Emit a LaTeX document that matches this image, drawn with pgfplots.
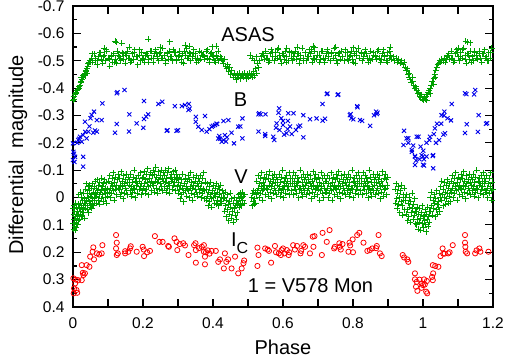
\documentclass[border=0pt]{standalone}
\usepackage{fontspec}
\setmainfont{Liberation Sans}
\usepackage{pgfplots}
\pgfplotsset{compat=1.18}
\definecolor{gpgreen}{RGB}{0,160,0}
\definecolor{gpblue}{RGB}{0,0,235}
\definecolor{gpred}{RGB}{255,0,0}

\begin{document}
\begin{tikzpicture}
\begin{axis}[
  scale only axis, width=420pt, height=301pt,
  xmin=0, xmax=1.2, ymin=-0.7, ymax=0.4, y dir=reverse,
  clip=false,
  xtick={0,0.1,0.2,0.3,0.4,0.5,0.6,0.7,0.8,0.9,1.0,1.1,1.2},
  xticklabels={0,,0.2,,0.4,,0.6,,0.8,,1,,1.2},
  ytick={-0.7,-0.6,-0.5,-0.4,-0.3,-0.2,-0.1,0,0.1,0.2,0.3,0.4},
  yticklabels={-0.7,-0.6,-0.5,-0.4,-0.3,-0.2,-0.1,0,0.1,0.2,0.3,0.4},
  minor ytick={-0.65,-0.55,-0.45,-0.35,-0.25,-0.15,-0.05,0.05,0.15,0.25,0.35},
  tick align=inside,
  major tick length=8pt, minor tick length=4.5pt,
  tick style={black, line width=1.1pt},
  axis line style={black, line width=1.3pt},
  tick label style={font=\fontsize{15.5}{18}\selectfont},
  xticklabel style={yshift=-7pt},
  yticklabel style={xshift=-5pt},
  label style={font=\fontsize{20}{24}\selectfont},
  xlabel={Phase},
  xlabel style={at={(axis description cs:0.5,-0.159)}, anchor=base},
  ylabel={Differential\ \ magnitude},
  ylabel style={at={(axis description cs:-0.131,0.505)}, anchor=center},
  asas/.style={only marks, mark=+, mark size=3pt, gpgreen, mark options={line width=0.9pt}},
]

% ASAS light curve
\addplot[asas] coordinates {
(0.001,-0.355)(0.002,-0.37)(0.004,-0.36)(0.006,-0.375)(0.008,-0.38)(0.01,-0.385)(0.012,-0.39)(0.014,-0.395)(0.016,-0.4)(0.018,-0.405)
(0.02,-0.41)(0.022,-0.42)(0.024,-0.425)(0.026,-0.43)(0.028,-0.44)(0.03,-0.445)(0.032,-0.45)(0.034,-0.455)(0.036,-0.46)(0.038,-0.465)
(0.04,-0.47)(0.042,-0.48)(0.044,-0.49)(0.046,-0.495)(0.048,-0.5)(0.05,-0.495)(0.023,-0.44)(0.035,-0.445)(0.041,-0.455)
(0.053,-0.51)(0.057,-0.495)(0.061,-0.525)(0.065,-0.5)(0.069,-0.485)(0.073,-0.515)(0.077,-0.53)(0.081,-0.505)(0.085,-0.49)(0.089,-0.52)
(0.093,-0.5)(0.097,-0.535)(0.101,-0.51)(0.105,-0.48)(0.109,-0.515)(0.113,-0.495)(0.117,-0.525)(0.121,-0.505)(0.125,-0.49)(0.129,-0.52)
(0.133,-0.515)(0.137,-0.5)(0.141,-0.53)(0.145,-0.505)(0.149,-0.49)(0.153,-0.52)(0.157,-0.535)(0.161,-0.51)(0.165,-0.495)(0.169,-0.525)
(0.173,-0.505)(0.177,-0.54)(0.181,-0.515)(0.185,-0.485)(0.189,-0.52)(0.193,-0.5)(0.197,-0.53)(0.201,-0.51)(0.205,-0.495)(0.209,-0.525)
(0.213,-0.52)(0.217,-0.505)(0.221,-0.535)(0.225,-0.51)(0.229,-0.495)(0.233,-0.525)(0.237,-0.54)(0.241,-0.515)(0.245,-0.5)(0.249,-0.53)
(0.253,-0.51)(0.257,-0.545)(0.261,-0.52)(0.265,-0.49)(0.269,-0.525)(0.273,-0.505)(0.277,-0.535)(0.281,-0.515)(0.285,-0.5)(0.289,-0.53)
(0.293,-0.53)(0.297,-0.5)(0.301,-0.515)(0.305,-0.535)(0.309,-0.505)(0.313,-0.525)(0.317,-0.49)(0.321,-0.52)(0.325,-0.545)(0.329,-0.51)
(0.333,-0.53)(0.337,-0.5)(0.341,-0.515)(0.345,-0.54)(0.349,-0.525)(0.353,-0.495)(0.357,-0.51)(0.361,-0.535)(0.365,-0.505)(0.369,-0.52)
(0.373,-0.52)(0.377,-0.505)(0.381,-0.535)(0.385,-0.51)(0.389,-0.495)(0.393,-0.525)(0.397,-0.53)(0.401,-0.515)(0.405,-0.5)(0.409,-0.52)
(0.413,-0.51)(0.417,-0.5)(0.421,-0.515)(0.425,-0.505)
(0.055,-0.525)(0.063,-0.51)(0.071,-0.5)(0.079,-0.53)(0.087,-0.515)(0.095,-0.54)(0.103,-0.505)(0.111,-0.52)(0.119,-0.495)(0.127,-0.535)
(0.135,-0.51)(0.143,-0.525)(0.151,-0.525)(0.159,-0.51)(0.167,-0.5)(0.175,-0.53)(0.183,-0.515)(0.191,-0.54)(0.199,-0.505)(0.207,-0.52)
(0.215,-0.495)(0.223,-0.535)(0.231,-0.51)(0.239,-0.525)(0.247,-0.525)(0.255,-0.51)(0.263,-0.5)(0.271,-0.53)(0.279,-0.515)(0.287,-0.54)
(0.295,-0.505)(0.303,-0.52)(0.311,-0.495)(0.319,-0.535)(0.327,-0.51)(0.335,-0.525)(0.343,-0.525)(0.351,-0.51)(0.359,-0.5)(0.367,-0.53)
(0.375,-0.515)(0.383,-0.54)(0.391,-0.505)(0.399,-0.52)(0.407,-0.495)(0.415,-0.535)(0.423,-0.51)
(0.12,-0.572)(0.124,-0.568)(0.139,-0.563)(0.215,-0.578)(0.277,-0.57)(0.32,-0.557)(0.333,-0.553)(0.398,-0.551)(0.41,-0.554)(0.09,-0.545)(0.16,-0.55)(0.25,-0.55)
(0.427,-0.5)(0.43,-0.49)(0.433,-0.505)(0.436,-0.48)(0.439,-0.47)(0.442,-0.485)(0.445,-0.46)(0.448,-0.475)(0.451,-0.45)(0.454,-0.465)
(0.457,-0.44)(0.46,-0.455)(0.463,-0.445)(0.466,-0.43)(0.469,-0.45)(0.472,-0.44)(0.475,-0.455)(0.478,-0.435)(0.481,-0.445)(0.484,-0.45)
(0.487,-0.44)(0.49,-0.455)(0.493,-0.445)(0.496,-0.435)(0.499,-0.45)(0.502,-0.44)(0.505,-0.455)(0.508,-0.445)(0.51,-0.45)(0.513,-0.44)
(0.516,-0.46)(0.519,-0.445)(0.522,-0.47)(0.525,-0.455)(0.528,-0.49)(0.531,-0.475)(0.534,-0.5)(0.537,-0.515)(0.54,-0.525)
(0.506,-0.52)(0.512,-0.51)(0.518,-0.5)(0.524,-0.515)
(0.543,-0.52)(0.547,-0.505)(0.551,-0.535)(0.555,-0.51)(0.559,-0.495)(0.563,-0.525)(0.567,-0.54)(0.571,-0.515)(0.575,-0.5)(0.579,-0.53)
(0.583,-0.51)(0.587,-0.545)(0.591,-0.52)(0.595,-0.49)(0.599,-0.525)(0.603,-0.505)(0.607,-0.535)(0.611,-0.515)(0.615,-0.5)(0.619,-0.53)
(0.623,-0.53)(0.627,-0.5)(0.631,-0.515)(0.635,-0.535)(0.639,-0.505)(0.643,-0.525)(0.647,-0.49)(0.651,-0.52)(0.655,-0.545)(0.659,-0.51)
(0.663,-0.53)(0.667,-0.5)(0.671,-0.515)(0.675,-0.54)(0.679,-0.525)(0.683,-0.495)(0.687,-0.51)(0.691,-0.535)(0.695,-0.505)(0.699,-0.52)
(0.703,-0.52)(0.707,-0.505)(0.711,-0.535)(0.715,-0.51)(0.719,-0.495)(0.723,-0.525)(0.727,-0.54)(0.731,-0.515)(0.735,-0.5)(0.739,-0.53)
(0.743,-0.51)(0.747,-0.545)(0.751,-0.52)(0.755,-0.49)(0.759,-0.525)(0.763,-0.505)(0.767,-0.535)(0.771,-0.515)(0.775,-0.5)(0.779,-0.53)
(0.783,-0.53)(0.787,-0.5)(0.791,-0.515)(0.795,-0.535)(0.799,-0.505)(0.803,-0.525)(0.807,-0.49)(0.811,-0.52)(0.815,-0.545)(0.819,-0.51)
(0.823,-0.53)(0.827,-0.5)(0.831,-0.515)(0.835,-0.54)(0.839,-0.525)(0.843,-0.495)(0.847,-0.51)(0.851,-0.535)(0.855,-0.505)(0.859,-0.52)
(0.863,-0.52)(0.867,-0.505)(0.871,-0.535)(0.875,-0.51)(0.879,-0.495)(0.883,-0.525)(0.887,-0.54)(0.891,-0.515)(0.895,-0.5)(0.899,-0.53)(0.903,-0.51)
(0.545,-0.525)(0.553,-0.51)(0.561,-0.5)(0.569,-0.53)(0.577,-0.515)(0.585,-0.54)(0.593,-0.505)(0.601,-0.52)(0.609,-0.495)(0.617,-0.535)
(0.625,-0.51)(0.633,-0.525)(0.641,-0.525)(0.649,-0.51)(0.657,-0.5)(0.665,-0.53)(0.673,-0.515)(0.681,-0.54)(0.689,-0.505)(0.697,-0.52)
(0.705,-0.495)(0.713,-0.535)(0.721,-0.51)(0.729,-0.525)(0.737,-0.525)(0.745,-0.51)(0.753,-0.5)(0.761,-0.53)(0.769,-0.515)(0.777,-0.54)
(0.785,-0.505)(0.793,-0.52)(0.801,-0.495)(0.809,-0.535)(0.817,-0.51)(0.825,-0.525)(0.833,-0.525)(0.841,-0.51)(0.849,-0.5)(0.857,-0.53)
(0.865,-0.515)(0.873,-0.54)(0.881,-0.505)(0.889,-0.52)(0.897,-0.495)(0.905,-0.535)
(0.686,-0.553)(0.69,-0.548)(0.906,-0.55)(0.61,-0.545)(0.75,-0.55)(0.8,-0.548)(0.64,-0.55)
(0.907,-0.52)(0.911,-0.505)(0.915,-0.515)(0.919,-0.5)(0.923,-0.51)(0.927,-0.495)(0.931,-0.505)(0.935,-0.49)(0.939,-0.5)(0.943,-0.485)
(0.946,-0.495)(0.949,-0.475)(0.952,-0.465)(0.955,-0.47)(0.958,-0.45)(0.961,-0.44)(0.964,-0.43)(0.967,-0.42)(0.97,-0.425)(0.973,-0.41)
(0.976,-0.4)(0.979,-0.405)(0.982,-0.39)(0.985,-0.38)(0.988,-0.385)(0.991,-0.37)(0.994,-0.365)(0.997,-0.36)(1.0,-0.355)(1.003,-0.365)
(1.006,-0.36)(1.009,-0.37)(1.012,-0.375)(1.015,-0.385)(1.018,-0.39)(1.021,-0.4)(1.024,-0.41)(1.027,-0.425)(1.03,-0.435)(1.033,-0.45)
(1.036,-0.465)(1.039,-0.475)(1.042,-0.485)(1.045,-0.49)(1.048,-0.5)(1.051,-0.495)(1.054,-0.505)(1.057,-0.5)(1.06,-0.51)(1.063,-0.495)
(1.066,-0.505)(1.069,-0.515)
(0.96,-0.455)(0.97,-0.44)(0.98,-0.4)(0.995,-0.375)(1.01,-0.355)(1.02,-0.38)(1.03,-0.415)(1.035,-0.44)
(1.072,-0.52)(1.076,-0.505)(1.08,-0.535)(1.084,-0.51)(1.088,-0.495)(1.092,-0.525)(1.096,-0.54)(1.1,-0.515)(1.104,-0.5)(1.108,-0.53)
(1.112,-0.51)(1.116,-0.545)(1.12,-0.52)(1.124,-0.49)(1.128,-0.525)(1.132,-0.505)(1.136,-0.535)(1.14,-0.515)(1.144,-0.5)(1.148,-0.53)
(1.152,-0.52)(1.156,-0.505)(1.16,-0.535)(1.164,-0.51)(1.168,-0.495)(1.172,-0.525)(1.176,-0.54)(1.18,-0.515)(1.184,-0.5)(1.188,-0.53)
(1.192,-0.51)(1.196,-0.545)
(1.074,-0.525)(1.082,-0.51)(1.09,-0.5)(1.098,-0.53)(1.106,-0.515)(1.114,-0.54)(1.122,-0.505)(1.13,-0.52)(1.138,-0.495)(1.146,-0.535)
(1.154,-0.51)(1.162,-0.525)(1.17,-0.525)(1.178,-0.51)(1.186,-0.5)(1.194,-0.53)
(1.122,-0.572)(1.128,-0.568)(1.135,-0.566)(1.1,-0.545)
};

% B light curve
\addplot[only marks, mark=x, mark size=2.9pt, gpblue, mark options={line width=0.9pt}] coordinates {
(0.0,-0.137)(0.001,-0.167)(0.0,-0.198)(0.003,-0.16)(0.006,-0.149)(0.004,-0.13)(0.029,-0.149)(0.029,-0.113)
(0.015,-0.21)(0.025,-0.204)(0.039,-0.216)(0.02,-0.222)(0.029,-0.228)(0.034,-0.277)(0.044,-0.241)(0.058,-0.237)(0.068,-0.241)
(0.053,-0.302)(0.06,-0.314)(0.068,-0.283)(0.082,-0.283)(0.084,-0.344)(0.012,-0.2)(0.018,-0.215)(0.047,-0.26)(0.05,-0.29)(0.035,-0.24)(0.063,-0.245)
(0.125,-0.381)(0.127,-0.385)(0.147,-0.393)(0.12,-0.237)(0.125,-0.269)(0.16,-0.241)(0.161,-0.304)(0.182,-0.271)(0.201,-0.255)
(0.203,-0.287)(0.203,-0.353)(0.215,-0.304)(0.209,-0.296)
(0.244,-0.342)(0.255,-0.35)(0.268,-0.244)(0.27,-0.246)(0.291,-0.334)(0.296,-0.244)(0.3,-0.246)(0.311,-0.334)(0.32,-0.338)
(0.331,-0.342)(0.33,-0.32)(0.333,-0.325)
(0.351,-0.295)(0.351,-0.277)(0.358,-0.259)(0.368,-0.247)(0.377,-0.298)(0.382,-0.241)(0.39,-0.25)(0.396,-0.259)(0.4,-0.262)
(0.406,-0.265)(0.41,-0.27)(0.412,-0.269)(0.415,-0.216)(0.418,-0.225)(0.425,-0.204)(0.43,-0.21)(0.434,-0.228)(0.43,-0.28)
(0.444,-0.283)(0.44,-0.22)(0.453,-0.237)(0.46,-0.198)(0.472,-0.259)(0.478,-0.26)(0.484,-0.289)(0.484,-0.216)(0.42,-0.215)(0.437,-0.205)
(0.53,-0.304)(0.536,-0.304)(0.532,-0.308)(0.55,-0.304)(0.53,-0.241)(0.549,-0.232)(0.549,-0.225)(0.572,-0.222)(0.575,-0.21)
(0.589,-0.326)(0.587,-0.31)(0.582,-0.271)(0.6,-0.265)(0.59,-0.247)(0.61,-0.235)(0.62,-0.26)(0.614,-0.28)(0.6,-0.28)(0.58,-0.255)
(0.595,-0.29)(0.603,-0.23)(0.613,-0.25)(0.615,-0.308)(0.625,-0.232)(0.63,-0.308)(0.637,-0.247)(0.644,-0.259)(0.649,-0.263)
(0.658,-0.22)(0.658,-0.301)(0.677,-0.286)(0.696,-0.289)(0.713,-0.281)(0.72,-0.288)(0.713,-0.342)(0.725,-0.378)(0.727,-0.38)
(0.756,-0.375)(0.758,-0.377)
(0.791,-0.301)(0.793,-0.305)(0.795,-0.29)(0.801,-0.286)(0.812,-0.334)(0.813,-0.33)(0.82,-0.283)(0.826,-0.28)(0.849,-0.262)
(0.86,-0.301)(0.866,-0.314)(0.87,-0.31)(0.868,-0.305)
(0.944,-0.192)(0.946,-0.244)(0.953,-0.216)(0.958,-0.2)(0.958,-0.217)(0.968,-0.174)(0.968,-0.167)(0.972,-0.19)(0.977,-0.152)
(0.977,-0.149)(0.977,-0.119)(0.98,-0.135)(0.982,-0.222)(0.987,-0.222)(0.99,-0.14)(0.993,-0.186)(0.996,-0.155)(1.0,-0.15)
(1.0,-0.12)(1.001,-0.171)(1.003,-0.14)(1.003,-0.117)(1.01,-0.15)(1.01,-0.2)(1.018,-0.21)(1.02,-0.222)(1.028,-0.152)
(1.029,-0.107)(1.029,-0.155)(1.031,-0.232)(1.034,-0.253)(1.037,-0.2)(1.04,-0.27)(1.046,-0.21)(1.052,-0.27)(1.053,-0.301)
(1.058,-0.23)(1.06,-0.3)(1.061,-0.314)(1.063,-0.235)(1.07,-0.29)(1.08,-0.282)(1.082,-0.342)(1.12,-0.381)(1.124,-0.378)
(1.146,-0.377)(1.149,-0.393)(1.12,-0.236)(1.125,-0.268)(1.157,-0.24)(1.159,-0.301)(1.183,-0.272)(1.18,-0.27)
};

% V light curve
\addplot[asas] coordinates {
(0.0005,0.095)(0.001,0.04)(0.002,0.115)(0.0025,0.06)(0.003,0.08)(0.004,0.03)(0.005,0.105)(0.0055,0.05)(0.006,0.12)(0.007,0.07)
(0.008,0.02)(0.0085,0.09)(0.009,0.06)(0.010,0.11)(0.011,0.035)(0.012,0.075)(0.013,0.1)(0.014,0.05)(0.0145,0.085)(0.015,0.025)
(0.016,0.06)(0.017,-0.01)(0.018,0.04)(0.019,0.08)(0.020,0.02)(0.021,0.05)(0.022,-0.02)(0.023,0.07)(0.024,0.03)(0.025,0.0)
(0.026,0.045)(0.027,0.065)(0.028,0.01)(0.029,0.035)(0.030,-0.015)(0.031,0.055)(0.032,0.02)(0.033,0.075)(0.034,0.005)(0.035,0.04)
(0.036,-0.03)(0.037,0.02)(0.038,-0.05)(0.039,0.01)(0.040,0.045)(0.041,-0.015)(0.042,0.03)(0.043,-0.04)(0.044,0.0)(0.045,0.055)
(0.046,-0.025)(0.047,0.015)(0.048,-0.045)(0.049,0.035)(0.050,-0.005)(0.051,0.02)(0.052,-0.035)(0.053,0.04)(0.054,-0.01)(0.055,0.025)
(0.056,-0.05)(0.057,0.005)(0.058,0.03)(0.059,-0.02)(0.060,0.01)
(0.061,-0.04)(0.062,0.0)(0.063,-0.06)(0.064,-0.015)(0.066,0.02)(0.067,-0.035)(0.068,-0.005)(0.069,-0.065)(0.071,-0.025)(0.072,0.01)
(0.073,-0.045)(0.075,-0.01)(0.076,0.025)(0.077,-0.055)(0.078,-0.02)(0.080,-0.03)(0.081,0.005)(0.082,-0.07)(0.084,-0.04)(0.085,-0.01)
(0.086,0.015)(0.088,-0.05)(0.089,-0.025)(0.090,-0.065)(0.092,0.0)(0.093,-0.035)(0.094,-0.015)(0.096,0.02)(0.097,-0.055)(0.098,-0.03)(0.099,-0.005)
(0.1015,-0.06)(0.103,-0.02)(0.1045,-0.08)(0.106,-0.035)(0.1075,0.0)(0.109,-0.05)(0.1105,-0.015)(0.112,-0.07)(0.1135,-0.04)(0.115,-0.09)
(0.1165,-0.025)(0.118,0.01)(0.1195,-0.055)(0.121,-0.03)(0.1225,-0.075)(0.124,-0.045)(0.1255,-0.01)(0.127,-0.065)(0.1285,-0.035)(0.13,-0.085)
(0.1315,-0.03)(0.133,-0.07)(0.1345,-0.005)(0.136,-0.045)(0.1375,-0.095)(0.139,-0.02)(0.1405,-0.06)(0.142,-0.04)(0.1435,0.005)(0.145,-0.08)
(0.1465,-0.05)(0.148,-0.015)(0.1495,-0.065)(0.151,-0.035)(0.1525,-0.085)(0.154,-0.025)(0.1555,-0.055)(0.157,-0.01)(0.1585,-0.075)(0.16,-0.045)
(0.1615,-0.065)(0.163,-0.025)(0.1645,-0.085)(0.166,-0.04)(0.1675,-0.005)(0.169,-0.055)(0.1705,-0.02)(0.172,-0.075)(0.1735,-0.035)(0.175,-0.1)
(0.1765,-0.03)(0.178,0.0)(0.1795,-0.06)(0.181,-0.045)(0.1825,-0.07)(0.184,-0.015)(0.1855,-0.05)(0.187,-0.08)(0.1885,-0.03)(0.19,-0.06)
(0.1915,-0.04)(0.193,-0.09)(0.1945,-0.01)(0.196,-0.05)(0.1975,-0.07)(0.199,-0.025)
(0.2005,-0.075)(0.202,-0.035)(0.2035,-0.095)(0.205,-0.05)(0.2065,-0.015)(0.208,-0.065)(0.2095,-0.03)(0.211,-0.085)(0.2125,-0.055)(0.214,-0.105)
(0.2155,-0.04)(0.217,-0.01)(0.2185,-0.07)(0.22,-0.045)(0.2215,-0.09)(0.223,-0.06)(0.2245,-0.025)(0.226,-0.08)(0.2275,-0.05)(0.229,-0.1)
(0.2305,-0.045)(0.232,-0.085)(0.2335,-0.02)(0.235,-0.06)(0.2365,-0.11)(0.238,-0.035)(0.2395,-0.075)(0.241,-0.055)(0.2425,-0.015)(0.244,-0.095)
(0.2455,-0.065)(0.247,-0.03)(0.2485,-0.08)(0.25,-0.05)(0.2515,-0.1)(0.253,-0.04)(0.2545,-0.07)(0.256,-0.025)(0.2575,-0.09)(0.259,-0.06)
(0.2605,-0.08)(0.262,-0.04)(0.2635,-0.1)(0.265,-0.055)(0.2665,-0.02)(0.268,-0.07)(0.2695,-0.035)(0.271,-0.09)(0.2725,-0.05)(0.274,-0.105)
(0.2755,-0.045)(0.277,-0.015)(0.2785,-0.075)(0.28,-0.06)(0.2815,-0.085)(0.283,-0.03)(0.2845,-0.065)(0.286,-0.095)(0.2875,-0.045)(0.289,-0.075)
(0.2905,-0.055)(0.292,-0.1)(0.2935,-0.025)(0.295,-0.065)(0.2965,-0.085)(0.298,-0.04)(0.2995,-0.07)
(0.3005,-0.055)(0.302,-0.015)(0.3035,-0.075)(0.305,-0.03)(0.3065,0.005)(0.308,-0.045)(0.3095,-0.01)(0.311,-0.065)(0.3125,-0.035)(0.314,-0.085)
(0.3155,-0.02)(0.317,0.015)(0.3185,-0.05)(0.32,-0.025)(0.3215,-0.07)(0.323,-0.04)(0.3245,-0.005)(0.326,-0.06)(0.3275,-0.03)(0.329,-0.08)
(0.3305,-0.025)(0.332,-0.065)(0.3335,0.0)(0.335,-0.04)(0.3365,-0.09)(0.338,-0.015)(0.3395,-0.055)(0.341,-0.035)(0.3425,0.01)(0.344,-0.075)
(0.3455,-0.045)(0.347,-0.01)(0.3485,-0.06)(0.35,-0.03)(0.3515,-0.08)(0.353,-0.02)(0.3545,-0.05)(0.356,-0.005)(0.3575,-0.07)(0.359,-0.04)
(0.3605,-0.06)(0.362,-0.02)(0.3635,-0.08)(0.365,-0.035)(0.3665,0.0)(0.368,-0.05)(0.3695,-0.015)(0.371,-0.07)(0.3725,-0.03)(0.374,-0.09)
(0.3755,-0.025)(0.377,0.005)(0.3785,-0.055)
(0.3805,-0.03)(0.382,0.01)(0.3835,-0.05)(0.385,-0.005)(0.3865,0.03)(0.388,-0.02)(0.3895,0.015)(0.391,-0.04)(0.3925,-0.01)(0.394,-0.055)
(0.3955,0.005)(0.397,0.035)(0.3985,-0.025)(0.4,0.0)(0.4015,-0.045)(0.403,-0.015)(0.4045,0.02)(0.406,-0.035)(0.4075,-0.005)(0.409,-0.05)
(0.4105,0.025)(0.412,-0.02)(0.4135,0.01)(0.415,-0.04)(0.4165,0.03)(0.418,-0.01)(0.4195,-0.03)(0.421,0.015)(0.4225,-0.045)(0.424,0.0)
(0.4255,0.02)(0.427,-0.025)(0.4285,0.005)(0.43,-0.015)
(0.4315,0.0)(0.433,0.05)(0.4345,-0.02)(0.436,0.03)(0.4375,0.07)(0.439,0.01)(0.4405,0.045)(0.442,-0.01)(0.4435,0.025)(0.445,0.085)
(0.4465,0.015)(0.448,0.06)(0.4495,-0.015)(0.451,0.035)(0.4525,0.075)(0.454,0.005)(0.4555,0.05)(0.457,0.02)(0.4585,0.09)(0.46,0.04)
(0.4615,0.0)(0.463,0.065)(0.4645,0.03)(0.466,0.08)(0.4675,0.01)(0.469,0.055)(0.4705,0.025)
(0.472,0.02)(0.4735,-0.01)(0.475,0.035)(0.4765,0.005)(0.478,-0.015)(0.4795,0.025)(0.481,0.0)(0.4825,0.03)(0.484,-0.02)(0.4855,0.01)
(0.487,-0.005)(0.4885,0.02)(0.49,-0.01)
(0.5105,0.0)(0.512,0.03)(0.5135,-0.015)(0.515,0.015)(0.5165,-0.025)(0.518,0.025)(0.5195,0.005)(0.521,-0.02)(0.5225,0.02)(0.524,-0.01)
(0.5255,-0.06)(0.527,-0.02)(0.5285,-0.08)(0.53,-0.035)(0.5315,0.0)(0.533,-0.05)(0.5345,-0.015)(0.536,-0.07)(0.5375,-0.04)(0.539,-0.09)
(0.5405,-0.025)(0.542,0.01)(0.5435,-0.055)(0.545,-0.03)(0.5465,-0.075)(0.548,-0.045)(0.5495,-0.01)(0.551,-0.065)(0.5525,-0.035)(0.554,-0.085)
(0.5555,-0.03)(0.557,-0.07)(0.5585,-0.005)(0.56,-0.045)(0.5615,-0.095)(0.563,-0.02)(0.5645,-0.06)(0.566,-0.04)(0.5675,0.005)(0.569,-0.08)
(0.5705,-0.05)(0.572,-0.015)(0.5735,-0.065)(0.575,-0.035)(0.5765,-0.085)(0.578,-0.025)(0.5795,-0.055)(0.581,-0.01)(0.5825,-0.075)(0.584,-0.045)
(0.5855,-0.065)(0.587,-0.025)(0.5885,-0.085)(0.59,-0.04)(0.5915,-0.005)(0.593,-0.055)(0.5945,-0.02)(0.596,-0.075)(0.5975,-0.035)(0.599,-0.1)
(0.6005,-0.03)(0.602,0.0)(0.6035,-0.06)(0.605,-0.045)(0.6065,-0.07)(0.608,-0.015)(0.6095,-0.05)(0.611,-0.08)(0.6125,-0.03)(0.614,-0.06)
(0.6155,-0.04)(0.617,-0.09)(0.6185,-0.01)(0.62,-0.05)(0.6215,-0.07)(0.623,-0.025)
(0.6245,-0.025)(0.626,-0.07)(0.6275,-0.05)(0.629,-0.01)(0.6305,-0.09)(0.632,-0.04)(0.6335,-0.06)(0.635,-0.03)(0.6365,-0.08)(0.638,-0.05)
(0.6395,-0.015)(0.641,-0.07)(0.6425,-0.045)(0.644,-0.06)(0.6455,0.0)(0.647,-0.03)(0.6485,-0.1)(0.65,-0.035)(0.6515,-0.075)(0.653,-0.02)
(0.6545,-0.055)(0.656,-0.005)(0.6575,-0.04)(0.659,-0.085)(0.6605,-0.025)(0.662,-0.065)(0.6635,-0.045)(0.665,-0.075)(0.6665,-0.01)(0.668,-0.055)
(0.6695,-0.025)(0.671,-0.085)(0.6725,-0.035)(0.674,-0.065)(0.6755,-0.015)(0.677,-0.05)(0.6785,-0.08)(0.68,0.005)(0.6815,-0.04)(0.683,-0.06)
(0.6845,-0.02)(0.686,-0.095)(0.6875,-0.045)(0.689,-0.005)(0.6905,-0.07)(0.692,-0.03)(0.6935,-0.085)(0.695,-0.035)(0.6965,-0.065)(0.698,-0.01)
(0.6995,-0.045)(0.701,-0.075)(0.7025,-0.03)(0.704,-0.055)(0.7055,0.01)(0.707,-0.025)(0.7085,-0.09)(0.71,-0.04)(0.7115,-0.07)(0.713,-0.015)
(0.7145,-0.05)(0.716,0.0)(0.7175,-0.035)(0.719,-0.08)(0.7205,-0.02)(0.722,-0.06)
(0.7235,-0.06)(0.725,-0.02)(0.7265,-0.08)(0.728,-0.035)(0.7295,0.0)(0.731,-0.05)(0.7325,-0.015)(0.734,-0.07)(0.7355,-0.04)(0.737,-0.09)
(0.7385,-0.025)(0.74,0.01)(0.7415,-0.055)(0.743,-0.03)(0.7445,-0.075)(0.746,-0.045)(0.7475,-0.01)(0.749,-0.065)(0.7505,-0.035)(0.752,-0.085)
(0.7535,-0.03)(0.755,-0.07)(0.7565,-0.005)(0.758,-0.045)(0.7595,-0.095)(0.761,-0.02)(0.7625,-0.06)(0.764,-0.04)(0.7655,0.005)(0.767,-0.08)
(0.7685,-0.05)(0.77,-0.015)(0.7715,-0.065)(0.773,-0.035)(0.7745,-0.085)(0.776,-0.025)(0.7775,-0.055)(0.779,-0.01)(0.7805,-0.075)(0.782,-0.045)
(0.7835,-0.065)(0.785,-0.025)(0.7865,-0.085)(0.788,-0.04)(0.7895,-0.005)(0.791,-0.055)(0.7925,-0.02)(0.794,-0.075)(0.7955,-0.035)(0.797,-0.1)
(0.7985,-0.03)(0.8,0.0)(0.8015,-0.06)(0.803,-0.045)(0.8045,-0.07)(0.806,-0.015)(0.8075,-0.05)(0.809,-0.08)(0.8105,-0.03)(0.812,-0.06)
(0.8135,-0.04)(0.815,-0.09)(0.8165,-0.01)(0.818,-0.05)(0.8195,-0.07)(0.821,-0.025)
(0.8225,-0.025)(0.824,-0.07)(0.8255,-0.05)(0.827,-0.01)(0.8285,-0.09)(0.83,-0.04)(0.8315,-0.06)(0.833,-0.03)(0.8345,-0.08)(0.836,-0.05)
(0.8375,-0.015)(0.839,-0.07)(0.8405,-0.045)(0.842,-0.06)(0.8435,0.0)(0.845,-0.03)(0.8465,-0.1)(0.848,-0.035)(0.8495,-0.075)(0.851,-0.02)
(0.8525,-0.055)(0.854,-0.005)(0.8555,-0.04)(0.857,-0.085)(0.8585,-0.025)(0.86,-0.065)(0.8615,-0.045)(0.863,-0.075)(0.8645,-0.01)(0.866,-0.055)
(0.8675,-0.025)(0.869,-0.085)(0.8705,-0.035)(0.872,-0.065)(0.8735,-0.015)(0.875,-0.05)(0.8765,-0.08)(0.878,0.005)(0.8795,-0.04)(0.881,-0.06)
(0.8825,-0.02)(0.884,-0.095)(0.8855,-0.045)(0.887,-0.005)(0.8885,-0.07)(0.89,-0.03)(0.8915,-0.085)(0.893,-0.035)(0.8945,-0.065)(0.896,-0.01)
(0.8975,-0.045)(0.899,-0.075)
(0.9205,-0.03)(0.922,0.02)(0.9235,-0.05)(0.925,0.005)(0.9265,0.04)(0.928,-0.015)(0.9295,0.025)(0.931,-0.04)(0.9325,0.0)(0.934,0.055)
(0.9355,-0.025)(0.937,0.015)(0.9385,-0.045)(0.94,0.03)(0.9415,0.065)(0.943,-0.01)(0.9445,0.01)(0.946,-0.035)(0.9475,0.045)(0.949,0.0)
(0.9505,0.01)(0.952,0.06)(0.9535,-0.01)(0.955,0.045)(0.9565,0.085)(0.958,0.02)(0.9595,0.07)(0.961,0.0)(0.9625,0.035)(0.964,0.09)
(0.9655,0.015)(0.967,0.055)(0.9685,-0.015)(0.97,0.04)(0.9715,0.08)(0.973,0.025)(0.9745,0.065)(0.976,0.005)(0.9775,0.05)(0.979,0.095)
(0.9805,0.05)(0.982,0.1)(0.9835,0.035)(0.985,0.08)(0.9865,0.115)(0.988,0.06)(0.9895,0.09)(0.991,0.04)(0.9925,0.075)(0.994,0.12)
(0.9955,0.055)(0.997,0.095)(0.9985,0.03)(1.0,0.07)(1.0015,0.11)(1.003,0.065)(1.0045,0.085)(1.006,0.045)(1.0075,0.1)(1.009,0.125)
(1.0105,0.06)(1.012,0.08)(1.0135,0.035)(1.015,0.105)(1.0165,0.07)(1.018,0.09)(1.0195,0.05)
(1.021,0.0)(1.0225,0.05)(1.024,-0.02)(1.0255,0.03)(1.027,0.065)(1.0285,0.01)(1.03,0.04)(1.0315,-0.01)(1.033,0.02)(1.0345,0.07)
(1.036,0.005)(1.0375,0.045)(1.039,-0.025)(1.0405,0.025)(1.042,0.06)(1.0435,0.015)(1.045,0.035)(1.0465,-0.015)(1.048,0.05)(1.0495,0.0)
(1.051,-0.04)(1.0525,0.01)(1.054,-0.06)(1.0555,-0.01)(1.057,0.03)(1.0585,-0.03)(1.06,0.0)(1.0615,-0.055)(1.063,-0.02)(1.0645,0.025)
(1.066,-0.045)(1.0675,0.005)(1.069,-0.065)(1.0705,-0.015)(1.072,0.02)(1.0735,-0.035)(1.075,-0.005)(1.0765,-0.05)(1.078,0.015)(1.0795,-0.025)
(1.0805,-0.06)(1.082,-0.02)(1.0835,-0.08)(1.085,-0.035)(1.0865,0.0)(1.088,-0.05)(1.0895,-0.015)(1.091,-0.07)(1.0925,-0.04)(1.094,-0.09)
(1.0955,-0.025)(1.097,0.01)(1.0985,-0.055)(1.1,-0.03)(1.1015,-0.075)(1.103,-0.045)(1.1045,-0.01)(1.106,-0.065)(1.1075,-0.035)(1.109,-0.085)
(1.1105,-0.03)(1.112,-0.07)(1.1135,-0.005)(1.115,-0.045)(1.1165,-0.095)(1.118,-0.02)(1.1195,-0.06)(1.121,-0.04)(1.1225,0.005)(1.124,-0.08)
(1.1255,-0.05)(1.127,-0.015)(1.1285,-0.065)(1.13,-0.035)(1.1315,-0.085)(1.133,-0.025)(1.1345,-0.055)(1.136,-0.01)(1.1375,-0.075)(1.139,-0.045)
(1.1405,-0.065)(1.142,-0.025)(1.1435,-0.085)(1.145,-0.04)(1.1465,-0.005)(1.148,-0.055)(1.1495,-0.02)(1.151,-0.075)(1.1525,-0.035)(1.154,-0.1)
(1.1555,-0.03)(1.157,0.0)(1.1585,-0.06)(1.16,-0.045)(1.1615,-0.07)(1.163,-0.015)(1.1645,-0.05)(1.166,-0.08)(1.1675,-0.03)(1.169,-0.06)
(1.1705,-0.04)(1.172,-0.09)(1.1735,-0.01)(1.175,-0.05)(1.1765,-0.07)(1.178,-0.025)(1.1795,-0.06)(1.181,-0.02)(1.1825,-0.08)(1.184,-0.035)
(1.1855,0.0)(1.187,-0.05)(1.1885,-0.015)(1.19,-0.07)(1.1915,-0.04)(1.193,-0.09)(1.1945,-0.025)(1.196,0.01)(1.1975,-0.055)(1.199,-0.03)
};

% I_C light curve
\addplot[only marks, mark=o, mark size=2.6pt, gpred, mark options={line width=0.8pt}] coordinates {
(0.001,0.295)(0.006,0.314)(0.003,0.332)(0.01,0.338)(0.012,0.348)(0.002,0.35)(0.008,0.3)(0.015,0.302)(0.025,0.302)(0.03,0.283)
(0.028,0.275)(0.034,0.277)(0.025,0.247)(0.039,0.247)(0.047,0.253)(0.049,0.216)(0.056,0.198)(0.058,0.182)(0.06,0.226)(0.068,0.204)
(0.075,0.208)(0.082,0.204)(0.084,0.174)
(0.123,0.137)(0.125,0.165)(0.123,0.186)(0.128,0.204)(0.125,0.21)(0.149,0.204)(0.149,0.196)(0.158,0.198)(0.163,0.186)(0.165,0.178)
(0.182,0.198)(0.199,0.18)(0.202,0.19)(0.203,0.214)(0.22,0.195)(0.212,0.2)
(0.234,0.141)(0.247,0.162)(0.256,0.162)(0.272,0.177)(0.274,0.18)(0.29,0.149)(0.296,0.162)(0.298,0.192)(0.305,0.17)(0.315,0.167)
(0.32,0.175)(0.33,0.21)(0.346,0.174)(0.35,0.167)(0.351,0.192)(0.351,0.238)(0.368,0.18)(0.374,0.174)(0.374,0.198)(0.377,0.216)
(0.377,0.244)(0.38,0.2)(0.385,0.193)(0.396,0.195)(0.408,0.195)(0.415,0.235)(0.42,0.226)(0.431,0.259)(0.434,0.204)(0.438,0.235)
(0.443,0.226)(0.453,0.259)(0.463,0.216)(0.472,0.277)(0.482,0.259)(0.487,0.24)(0.489,0.23)(0.39,0.205)(0.36,0.185)
(0.527,0.183)(0.53,0.21)(0.527,0.25)(0.549,0.186)(0.556,0.19)(0.56,0.195)(0.566,0.238)(0.577,0.177)(0.58,0.2)(0.588,0.204)
(0.6,0.186)(0.604,0.204)(0.596,0.192)(0.594,0.21)(0.611,0.192)(0.618,0.2)(0.616,0.21)(0.629,0.174)(0.634,0.19)(0.64,0.177)
(0.65,0.204)(0.652,0.195)(0.658,0.174)(0.663,0.18)(0.677,0.204)(0.687,0.18)(0.685,0.143)(0.69,0.141)(0.711,0.21)(0.713,0.129)
(0.725,0.162)(0.733,0.119)(0.746,0.186)(0.748,0.18)(0.761,0.167)(0.762,0.18)(0.765,0.19)(0.77,0.17)(0.787,0.198)(0.79,0.165)
(0.792,0.175)(0.799,0.153)(0.8,0.2)(0.812,0.137)(0.818,0.129)(0.83,0.165)(0.841,0.195)(0.848,0.192)(0.855,0.186)(0.868,0.177)
(0.873,0.137)(0.877,0.204)(0.882,0.214)(0.866,0.185)
(0.942,0.21)(0.946,0.219)(0.955,0.226)(0.958,0.235)(0.977,0.277)(0.977,0.299)(0.982,0.308)(0.98,0.326)(0.984,0.341)(0.99,0.3)
(0.996,0.314)(0.996,0.33)(1.0,0.32)(1.003,0.299)(1.009,0.344)(1.011,0.305)(1.012,0.35)(1.005,0.318)(1.028,0.302)(1.026,0.29)
(1.029,0.277)(1.028,0.247)(1.035,0.25)(1.044,0.253)(1.05,0.214)(1.056,0.186)(1.058,0.205)(1.062,0.205)(1.072,0.204)(1.076,0.2)
(1.085,0.174)(1.12,0.137)(1.12,0.165)(1.121,0.18)(1.122,0.198)(1.126,0.204)(1.149,0.204)(1.153,0.193)(1.161,0.186)(1.164,0.198)
(1.187,0.198)
};

% curve labels
\node[anchor=base, inner sep=0pt, font=\fontsize{20}{24}\selectfont] at (axis cs:0.5,-0.569) {ASAS};
\node[anchor=base, inner sep=0pt, font=\fontsize{20}{24}\selectfont] at (axis cs:0.479,-0.332) {B};
\node[anchor=base, inner sep=0pt, font=\fontsize{20}{24}\selectfont] at (axis cs:0.48,-0.052) {V};
\node[anchor=base west, inner sep=0pt, font=\fontsize{20}{24}\selectfont] at (axis cs:0.451,0.18) {I\raisebox{-6.5pt}{\fontsize{16}{18}\selectfont C}};
\node[anchor=base west, inner sep=0pt, font=\fontsize{20}{24}\selectfont] at (axis cs:0.4994,0.348) {1 = V578 Mon};
\end{axis}
\pgfresetboundingbox
\path ([shift={(-73pt,-52pt)}]current axis.south west) rectangle ([shift={(16pt,6pt)}]current axis.north east);
\end{tikzpicture}
\end{document}
